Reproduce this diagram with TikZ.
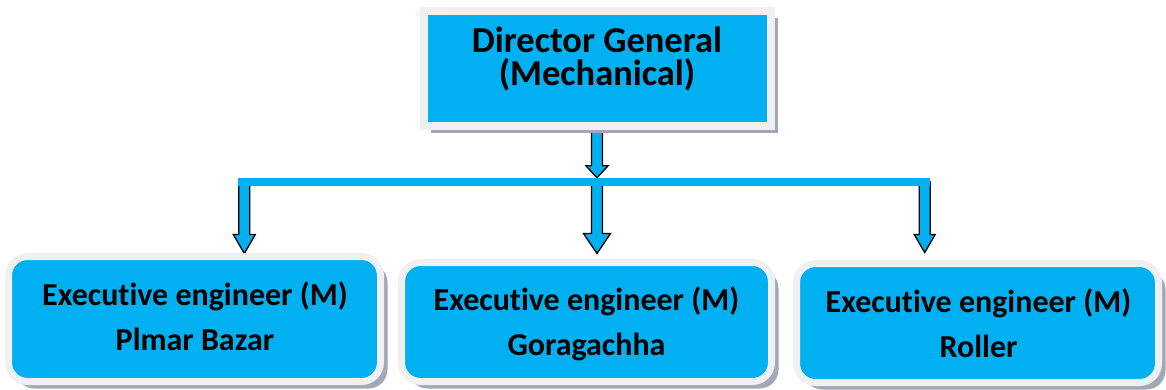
\documentclass[tikz,border=0pt]{standalone}
\usepackage{fontspec}
\setmainfont{Carlito}[RawFeature={-liga;-clig;-calt;-dlig}]
\usetikzlibrary{shadows,calc}
\definecolor{boxblue}{HTML}{00B0F0}
\definecolor{framegray}{HTML}{F0F0F2}
\definecolor{shadowgray}{HTML}{A3A8B8}
\pgfdeclarelayer{bg}
\pgfsetlayers{bg,main}
\newcommand\blockarrow[5]{%
  \draw[arrowshape] let \p1=(#1), \p2=(#2) in
   (\x1-#3,\y1) -- (\x1-#3,\y2+#5) -- (\x1-#4,\y2+#5) -- (\x1,\y2) --
   (\x1+#4,\y2+#5) -- (\x1+#3,\y2+#5) -- (\x1+#3,\y1) -- cycle;}
\tikzset{
  boxshadow/.style={drop shadow={shadow xshift=7pt, shadow yshift=-7pt, fill=shadowgray, opacity=1}},
  topbox/.style={fill=boxblue, draw=framegray, line width=8pt, minimum width=347pt, minimum height=115pt, inner sep=0pt, boxshadow},
  subbox/.style={fill=boxblue, draw=framegray, line width=7pt, rounded corners=19pt, inner sep=0pt, boxshadow},
  toptext/.style={font=\bfseries\fontsize{36.5}{36}\selectfont, anchor=base, inner sep=0pt},
  subtext/.style={font=\bfseries\fontsize{32}{32}\selectfont, anchor=base, inner sep=0pt},
  arrowshape/.style={fill=boxblue, draw=black, line width=1.3pt, line join=miter},
  barshape/.style={fill=boxblue, inner sep=0pt, minimum width=692pt, minimum height=8pt}
}
\begin{document}
\begin{tikzpicture}[x=1pt,y=-1pt]
\useasboundingbox (0,0) rectangle (1166,389);
\node[topbox] (top) at (597,68.5) {};
\node[subbox, minimum width=372pt, minimum height=125pt] (b1) at (194.5,319) {};
\node[subbox, minimum width=370pt, minimum height=119pt] (b2) at (586.5,322) {};
\node[subbox, minimum width=362pt, minimum height=119pt] (b3) at (977.5,323) {};
\node[toptext] (t0a) at (597,52) {Director General};
\node[toptext] (t0b) at (597,85) {(Mechanical)};
\node[subtext] (t1a) at (195,305) {Executive engineer (M)};
\node[subtext] (t1b) at (195,350) {Plmar Bazar};
\node[subtext] (t2a) at (586.5,310) {Executive engineer (M)};
\node[subtext] (t2b) at (586.5,355) {Goragachha};
\node[subtext] (t3a) at (978.5,312) {Executive engineer (M)};
\node[subtext] (t3b) at (978.5,357) {Roller};
\node[barshape] (bar) at (584,182) {};
\begin{pgfonlayer}{bg}
\blockarrow{top.south}{bar.north}{5.5pt}{11pt}{12pt}
\blockarrow{top.south |- bar}{$(b2.north)+(0,-5.5)$}{5.5pt}{13.5pt}{20pt}
\blockarrow{$(bar.west)+(6.5,0)$}{$(b1.north)+(0,0.5)$}{5.5pt}{11pt}{19pt}
\blockarrow{$(bar.east)+(-5.5,0)$}{$(b3.north)+(0,-7.5)$}{5.5pt}{10.5pt}{18pt}
\end{pgfonlayer}
\end{tikzpicture}
\end{document}
